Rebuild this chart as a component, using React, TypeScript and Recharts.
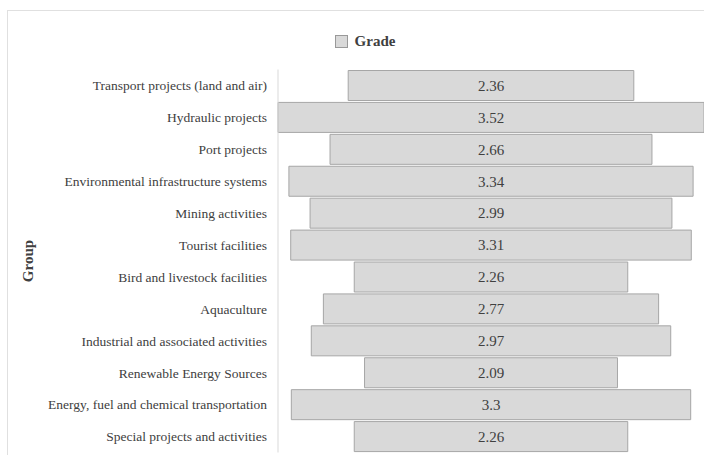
import { BarChart, Bar, XAxis, YAxis, Legend, LabelList } from 'recharts';

const groups = [
  'Transport projects (land and air)',
  'Hydraulic projects',
  'Port projects',
  'Environmental infrastructure systems',
  'Mining activities',
  'Tourist facilities',
  'Bird and livestock facilities',
  'Aquaculture',
  'Industrial and associated activities',
  'Renewable Energy Sources',
  'Energy, fuel and chemical transportation',
  'Special projects and activities',
];
const grades = [2.36, 3.52, 2.66, 3.34, 2.99, 3.31, 2.26, 2.77, 2.97, 2.09, 3.3, 2.26];

const maxGrade = Math.max(...grades);
// funnel: an invisible spacer bar pushes each grade bar to the centre
const data = groups.map((group, i) => ({
  group,
  pad: (maxGrade - grades[i]) / 2,
  grade: grades[i],
}));

const FONT = '"Liberation Serif", "Times New Roman", serif';

const GradeLegend = () => (
  <div style={{ display: 'flex', justifyContent: 'center', alignItems: 'center', fontFamily: FONT }}>
    <span style={{ width: 11, height: 11, background: '#d9d9d9', border: '1px solid #999', marginRight: 7 }} />
    <span style={{ fontSize: 15, fontWeight: 'bold', color: '#404040' }}>Grade</span>
  </div>
);

const GroupLabel = ({ viewBox }: any) => {
  const cy = viewBox.y + viewBox.height / 2;
  return (
    <text x={20} y={cy} transform={`rotate(-90, 20, ${cy})`} textAnchor="middle" dominantBaseline="central"
      fontFamily={FONT} fontSize={15} fontWeight="bold" fill="#404040">
      Group
    </text>
  );
};

export default function App() {
  return (
    <div style={{ position: 'absolute', left: 7, top: 10, width: 697, height: 445, borderTop: '1px solid #e0e0e0', borderLeft: '1px solid #e0e0e0' }}>
      <BarChart width={696} height={444} data={data} layout="vertical"
        margin={{ top: 58.5, right: 0, bottom: 2.5, left: 0 }} barSize={30}>
        <XAxis type="number" hide domain={[0, maxGrade]} />
        <YAxis type="category" dataKey="group" width={270} interval={0}
          axisLine={{ stroke: '#d9d9d9' }} tickLine={false} tickSize={6} tickMargin={5}
          tick={{ fill: '#404040', fontSize: 13.5, fontFamily: FONT }}
          label={<GroupLabel />} />
        <Legend verticalAlign="middle" align="center" content={<GradeLegend />}
          wrapperStyle={{ top: 22, left: 9, width: 696 }} />
        <Bar dataKey="pad" stackId="f" fill="transparent" legendType="none" isAnimationActive={false} />
        <Bar dataKey="grade" stackId="f" name="Grade" fill="#d9d9d9" stroke="#a6a6a6" strokeWidth={1}
          isAnimationActive={false}>
          <LabelList dataKey="grade" position="center" fill="#404040" fontSize={15} fontFamily={FONT} />
        </Bar>
      </BarChart>
    </div>
  );
}
